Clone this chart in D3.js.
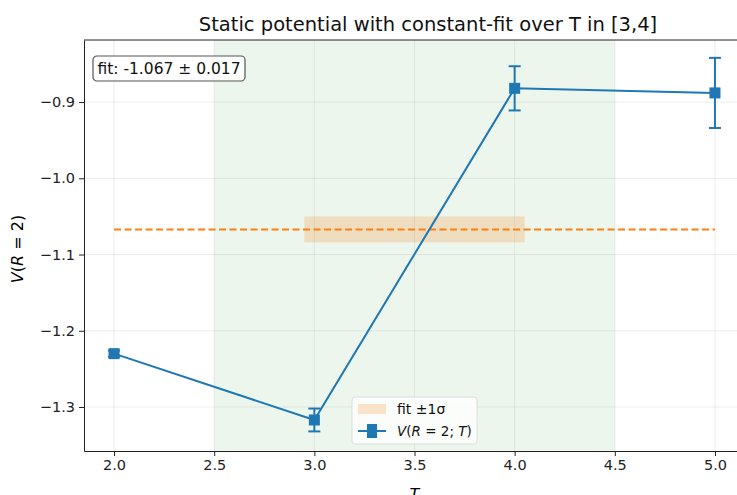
<!DOCTYPE html>
<html>
<head>
<meta charset="utf-8">
<script src="https://d3js.org/d3.v7.min.js"></script>
<style>
  body { margin: 0; background: #fff; }
  text { font-family: "DejaVu Sans", sans-serif; }
</style>
</head>
<body>
<div id="chart"></div>
<script>
// data
let tValues = [2, 3, 4, 5];
let potential = [-1.230, -1.317, -0.882, -0.888];
let potentialErr = [0.004, 0.015, 0.029, 0.046];
let fitValue = -1.067, fitErr = 0.017;
let fitWindow = [3, 4];
let shadeRange = [2.5, 4.5];
let xTicks = [2.0, 2.5, 3.0, 3.5, 4.0, 4.5, 5.0];
let yTicks = [-0.9, -1.0, -1.1, -1.2, -1.3];

let svgWidth = 737, svgHeight = 495;
let margin = {top: 40, left: 84, right: -8, bottom: 44};
let width = svgWidth - margin.left - margin.right,
    height = svgHeight - margin.top - margin.bottom;

let x = d3.scaleLinear().domain([1.85, 5.15]).range([0, width]);
let y = d3.scaleLinear().domain([-1.3577, -0.8186]).range([height, 0]);

let svg = d3.select("#chart").append("svg")
    .attr("width", svgWidth)
    .attr("height", svgHeight);

svg.append("text")
    .attr("x", 428).attr("y", 31)
    .attr("text-anchor", "middle")
    .attr("font-size", "19.5px")
    .attr("fill", "#111")
    .text("Static potential with constant-fit over T in [3,4]");

let g = svg.append("g")
    .attr("transform", "translate(" + margin.left + "," + margin.top + ")");

// green region
g.append("rect")
    .attr("x", x(shadeRange[0]))
    .attr("y", 0)
    .attr("width", x(shadeRange[1]) - x(shadeRange[0]))
    .attr("height", height)
    .attr("fill", "#2ca02c")
    .attr("fill-opacity", 0.09);

// grid
g.selectAll(".xgrid").data(xTicks).enter().append("line")
    .attr("x1", d => x(d)).attr("x2", d => x(d))
    .attr("y1", 0).attr("y2", height)
    .attr("stroke", "#b0b0b0").attr("stroke-opacity", 0.3).attr("stroke-width", 0.8);
g.selectAll(".ygrid").data(yTicks).enter().append("line")
    .attr("x1", 0).attr("x2", width)
    .attr("y1", d => y(d)).attr("y2", d => y(d))
    .attr("stroke", "#b0b0b0").attr("stroke-opacity", 0.3).attr("stroke-width", 0.8);

// fit band over the window
g.append("rect")
    .attr("x", x(fitWindow[0] - 0.05))
    .attr("y", y(fitValue + fitErr))
    .attr("width", x(fitWindow[1] + 0.05) - x(fitWindow[0] - 0.05))
    .attr("height", y(fitValue - fitErr) - y(fitValue + fitErr))
    .attr("fill", "#ff7f0e")
    .attr("fill-opacity", 0.2);

// fit dashed line
g.append("line")
    .attr("x1", x(tValues[0])).attr("x2", x(tValues[tValues.length - 1]))
    .attr("y1", y(fitValue)).attr("y2", y(fitValue))
    .attr("stroke", "#ff7f0e").attr("stroke-width", 2)
    .attr("stroke-dasharray", "7,3.5");

// data line
let pts = tValues.map((t, i) => ({t: t, v: potential[i], e: potentialErr[i]}));
g.append("path")
    .datum(pts)
    .attr("fill", "none")
    .attr("stroke", "#1f77b4")
    .attr("stroke-width", 2)
    .attr("d", d3.line().x(d => x(d.t)).y(d => y(d.v)));

// error bars
let eb = g.selectAll(".eb").data(pts).enter().append("g").attr("stroke", "#1f77b4").attr("stroke-width", 2);
eb.append("line")
    .attr("x1", d => x(d.t)).attr("x2", d => x(d.t))
    .attr("y1", d => y(d.v - d.e)).attr("y2", d => y(d.v + d.e));
eb.append("line")
    .attr("x1", d => x(d.t) - 6).attr("x2", d => x(d.t) + 6)
    .attr("y1", d => y(d.v - d.e)).attr("y2", d => y(d.v - d.e));
eb.append("line")
    .attr("x1", d => x(d.t) - 6).attr("x2", d => x(d.t) + 6)
    .attr("y1", d => y(d.v + d.e)).attr("y2", d => y(d.v + d.e));

g.selectAll(".mk").data(pts).enter().append("rect")
    .attr("x", d => x(d.t) - 5.5).attr("y", d => y(d.v) - 5.5)
    .attr("width", 11).attr("height", 11)
    .attr("fill", "#1f77b4");

// axes
let xAxis = g.append("g")
    .attr("transform", "translate(0," + height + ")")
    .call(d3.axisBottom(x).tickValues(xTicks).tickFormat(d3.format(".1f"))
        .tickSizeInner(5).tickSizeOuter(0).tickPadding(4));
let yAxis = g.append("g")
    .call(d3.axisLeft(y).tickValues(yTicks).tickFormat(d => d3.format(".1f")(d).replace("-", "\u2212"))
        .tickSizeInner(5).tickSizeOuter(0).tickPadding(4));
[xAxis, yAxis].forEach(a => {
    a.selectAll("text").attr("font-size", "14.5px").attr("fill", "#222").attr("font-family", "DejaVu Sans, sans-serif");
    a.selectAll("line").attr("stroke", "#222");
    a.select(".domain").attr("stroke", "#222").attr("stroke-width", 1);
});
// top spine
g.append("line")
    .attr("x1", 0).attr("x2", width).attr("y1", 0).attr("y2", 0)
    .attr("stroke", "#222");

// axis labels
svg.append("text")
    .attr("x", margin.left + x(3.5)).attr("y", 500)
    .attr("text-anchor", "middle")
    .attr("font-size", "16px")
    .attr("font-style", "italic")
    .text("T");
let yl = svg.append("text")
    .attr("transform", "translate(23," + 249 + ") rotate(-90)")
    .attr("text-anchor", "middle")
    .attr("font-size", "16px");
yl.append("tspan").attr("font-style", "italic").text("V");
yl.append("tspan").text("(");
yl.append("tspan").attr("font-style", "italic").text("R");
yl.append("tspan").text(" = 2)");

// fit annotation
let ann = g.append("g").attr("transform", "translate(9,16)");
ann.append("rect")
    .attr("width", 152).attr("height", 25)
    .attr("rx", 4)
    .attr("fill", "#fff").attr("fill-opacity", 0.85)
    .attr("stroke", "#555").attr("stroke-width", 1.2);
ann.append("text")
    .attr("x", 76).attr("y", 18)
    .attr("text-anchor", "middle")
    .attr("font-size", "15.5px")
    .attr("fill", "#111")
    .text("fit: " + fitValue.toFixed(3) + " \u00b1 " + fitErr.toFixed(3));

// legend
let leg = svg.append("g").attr("transform", "translate(352,397)");
leg.append("rect")
    .attr("width", 125).attr("height", 47).attr("rx", 3)
    .attr("fill", "#fff").attr("fill-opacity", 0.8)
    .attr("stroke", "#ddd");
leg.append("rect")
    .attr("x", 6).attr("y", 7).attr("width", 28).attr("height", 10)
    .attr("fill", "#ff7f0e").attr("fill-opacity", 0.2);
leg.append("text")
    .attr("x", 45).attr("y", 17)
    .attr("font-size", "14px").attr("fill", "#111")
    .text("fit \u00b11\u03c3");
let lk = leg.append("g").attr("stroke", "#1f77b4").attr("stroke-width", 2);
lk.append("line").attr("x1", 6).attr("x2", 34).attr("y1", 34).attr("y2", 34);
lk.append("line").attr("x1", 20).attr("x2", 20).attr("y1", 28).attr("y2", 40);
lk.append("line").attr("x1", 15).attr("x2", 25).attr("y1", 28).attr("y2", 28);
lk.append("line").attr("x1", 15).attr("x2", 25).attr("y1", 40).attr("y2", 40);
leg.append("rect")
    .attr("x", 15).attr("y", 29).attr("width", 10).attr("height", 10)
    .attr("fill", "#1f77b4");
let lt = leg.append("text")
    .attr("x", 45).attr("y", 39)
    .attr("font-size", "13.5px").attr("fill", "#111");
lt.append("tspan").attr("font-style", "italic").text("V");
lt.append("tspan").text("(");
lt.append("tspan").attr("font-style", "italic").text("R");
lt.append("tspan").text(" = 2; ");
lt.append("tspan").attr("font-style", "italic").text("T");
lt.append("tspan").text(")");
</script>
</body>
</html>
